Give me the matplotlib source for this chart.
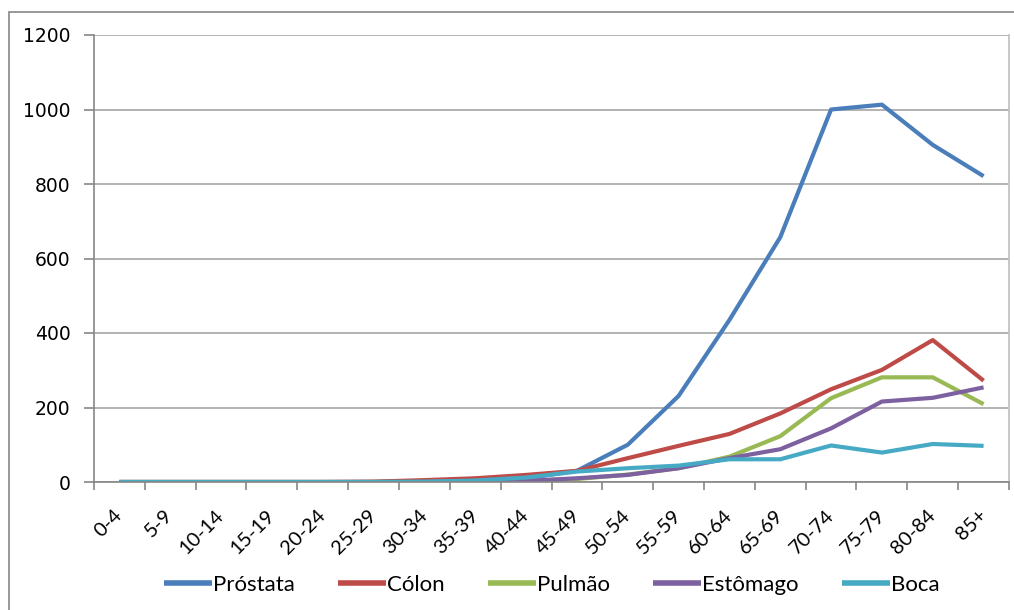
import matplotlib
matplotlib.use("Agg")
import matplotlib.pyplot as plt
from matplotlib.patches import Rectangle
from matplotlib.transforms import ScaledTranslation

age_groups = ["0-4", "5-9", "10-14", "15-19", "20-24", "25-29", "30-34", "35-39",
              "40-44", "45-49", "50-54", "55-59", "60-64", "65-69", "70-74",
              "75-79", "80-84", "85+"]

prostata = [0, 0, 0, 0, 0, 0, 2, 5, 10, 30, 100, 231, 435, 657, 1000, 1013, 905, 821]
colon    = [0, 0, 0, 0, 0, 1, 5, 10, 19, 30, 64, 97, 129, 184, 249, 301, 381, 272]
pulmao   = [0, 0, 0, 0, 0, 0, 0, 1, 3, 8, 20, 37, 68, 123, 225, 281, 281, 209]
estomago = [0, 0, 0, 0, 0, 0, 0, 1, 3, 10, 19, 37, 64, 88, 144, 216, 226, 254]
boca     = [0, 0, 0, 0, 0, 0, 1, 4, 12, 28, 37, 44, 61, 61, 98, 79, 102, 97]

series_names = ["Próstata", "Cólon", "Pulmão", "Estômago", "Boca"]
series_colors = ["#4A7EBB", "#BE4B48", "#98B954", "#7D60A0", "#46AAC5"]
series_values = [prostata, colon, pulmao, estomago, boca]

y_ticks = [0, 200, 400, 600, 800, 1000, 1200]

W, H = 1014, 610
fig = plt.figure(figsize=(W / 100, H / 100), dpi=100)

# outer chart frame
fig.patches.append(Rectangle((9 / W, -0.05), 1.2, 1 - 12 / H + 0.05,
                             transform=fig.transFigure, fill=False,
                             edgecolor="#868686", linewidth=1.2))

left, right, top, bottom = 94, 1009, 35, 482
ax = fig.add_axes([left / W, 1 - bottom / H, (right - left) / W, (bottom - top) / H])

x = list(range(len(age_groups)))
for name, color, vals in zip(series_names, series_colors, series_values):
    ax.plot(x, vals, color=color, linewidth=3.0, label=name,
            solid_capstyle="butt", solid_joinstyle="round")

ax.set_xlim(-0.5, len(age_groups) - 0.5)
ax.set_ylim(0, 1200)
ax.set_yticks(y_ticks)
ax.set_yticklabels([str(v) for v in y_ticks], fontsize=13.5, family=["DejaVu Sans"])
ax.yaxis.grid(True, color="#A6A6A6", linewidth=1.2)
ax.set_axisbelow(True)

# category boundaries carry the ticks, labels sit at the centres
ax.set_xticks([i - 0.5 for i in range(len(age_groups) + 1)])
ax.set_xticklabels([])
ax.set_xticks(x, minor=True)
labels = ax.set_xticklabels(age_groups, minor=True, rotation=45, ha="right",
                            va="center", rotation_mode="anchor", fontsize=14.5,
                            family=["Lato", "DejaVu Sans"])
shift = ScaledTranslation(7 / 100, 0, fig.dpi_scale_trans)
for lab in labels:
    lab.set_transform(lab.get_transform() + shift)
ax.tick_params(axis="x", which="minor", length=0, pad=22)
ax.tick_params(axis="x", which="major", length=6, width=1.2, color="#868686",
               direction="out")
ax.tick_params(axis="y", length=7, width=1.2, color="#868686", pad=10)

for side in ["left", "bottom", "right", "top"]:
    ax.spines[side].set_color("#868686")
    ax.spines[side].set_linewidth(1.2)
ax.spines["top"].set_visible(False)
ax.spines["right"].set_color("#BFBFBF")

leg = fig.legend(loc="center", bbox_to_anchor=(552 / W, 1 - 585 / H), ncol=5,
                 frameon=False, handlelength=2.16, handletextpad=0.05,
                 columnspacing=1.94,
                 prop={"family": ["Lato", "DejaVu Sans"], "size": 16})
for line in leg.get_lines():
    line.set_linewidth(4)

fig.savefig("out.png", dpi=100)
